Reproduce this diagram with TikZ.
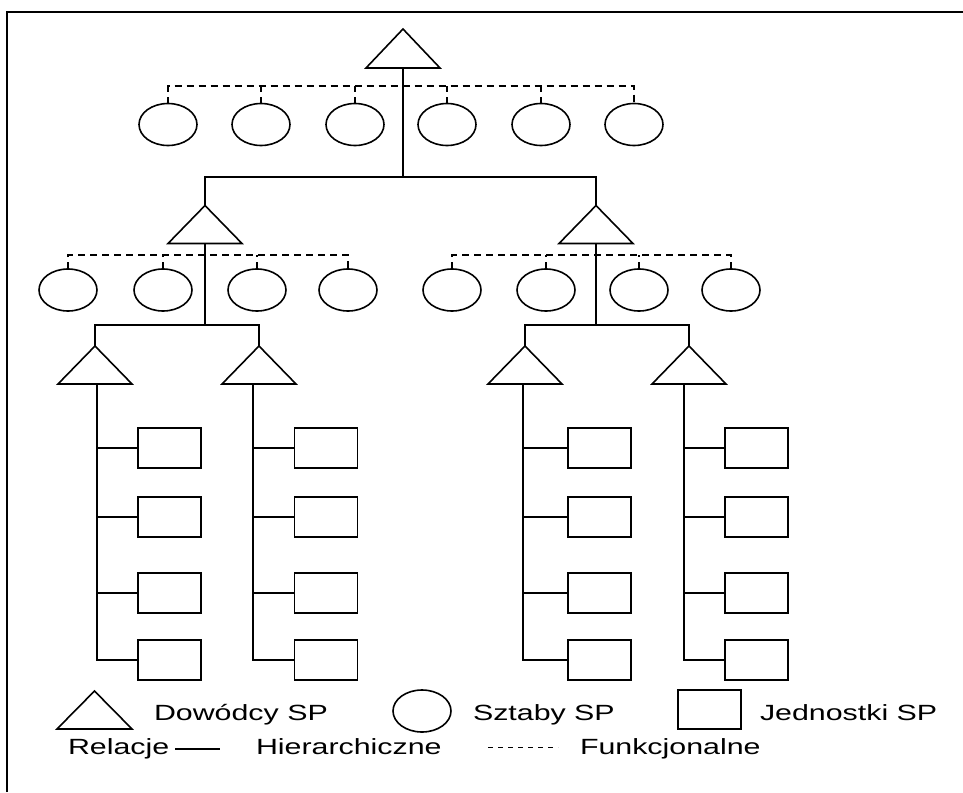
\documentclass[tikz,border=0pt]{standalone}
\usepackage{fontspec}
\setmainfont{Liberation Sans}
\usetikzlibrary{shapes.geometric}
\newcommand{\wide}[1]{\scalebox{1.38}[1]{#1}}
\begin{document}
\begin{tikzpicture}[x=1pt,y=-1pt,
  every node/.style={inner sep=0pt, outer sep=0pt},
  ln/.style={line width=1.6pt, black},
  fn/.style={line width=1.5pt, black, dash pattern=on 7pt off 5pt},
  tri/.style={minimum width=74pt, minimum height=38pt},
  sztab/.style={ellipse, draw, line width=1.6pt, minimum width=58pt, minimum height=42pt},
  jedn/.style={rectangle, draw, line width=1.6pt, minimum width=63pt, minimum height=40pt},
  lbl/.style={anchor=base west, font=\fontsize{22}{22}\selectfont}]
\useasboundingbox (0,0) rectangle (963,792);
\fill[white] (0,0) rectangle (963,792);
% frame
\draw[line width=2.2pt] (7,792) -- (7,12) -- (963,12);

% commanders (triangles)
\node[tri, minimum height=39pt] (t0) at (403,48.5) {};
\node[tri] (tL) at (205,224.5) {};
\node[tri] (tR) at (596,224.5) {};
\node[tri] (tLL) at (95,365) {};
\node[tri] (tLR) at (259,365) {};
\node[tri] (tRL) at (525,365) {};
\node[tri] (tRR) at (689,365) {};
\node[tri, minimum width=75pt] (lt) at (94.5,710) {};
\foreach \n in {t0,tL,tR,tLL,tLR,tRL,tRR,lt}
  \draw[ln, line join=miter] (\n.south west) -- (\n.north) -- (\n.south east) -- cycle;

% staffs (ellipses)
\foreach \x [count=\i] in {168,261,355,447,541,634}
  \node[sztab] (s0\i) at (\x,124.5) {};
\foreach \x [count=\i] in {68,163,257,348}
  \node[sztab] (sL\i) at (\x,290) {};
\foreach \x [count=\i] in {452,546,639,731}
  \node[sztab] (sR\i) at (\x,290) {};

% units (rectangles)
\foreach \y [count=\j] in {448,517,593,660} {
  \node[jedn] (jLL\j) at (169.5,\y) {};
  \node[jedn] (jLR\j) at (326,\y) {};
  \node[jedn] (jRL\j) at (599.5,\y) {};
  \node[jedn] (jRR\j) at (756.5,\y) {};
}

% hierarchical relations
\coordinate (b0) at (403,177);
\draw[ln] (t0.south) -- (b0);
\draw[ln] (tL.north) |- (b0) -| (tR.north);
\coordinate (bL) at (205,325);
\coordinate (bR) at (596,325);
\draw[ln] (tL.south) -- (bL);
\draw[ln] (tR.south) -- (bR);
\draw[ln] (tLL.north) |- (bL) -| (tLR.north);
\draw[ln] (tRL.north) |- (bR) -| (tRR.north);
\foreach \j in {1,...,4} {
  \draw[ln] ([xshift=2pt]tLL.south) |- (jLL\j.west);
  \draw[ln] ([xshift=-6pt]tLR.south) |- (jLR\j.west);
  \draw[ln] ([xshift=-2pt]tRL.south) |- (jRL\j.west);
  \draw[ln] ([xshift=-5pt]tRR.south) |- (jRR\j.west);
}

% functional relations
\coordinate (d0) at (403,86);
\coordinate (dL) at (205,255);
\coordinate (dR) at (596,255);
\draw[fn] (s01.north) |- (d0) -| (s06.north);
\foreach \i in {2,...,5} \draw[fn] (s0\i.north) -- (s0\i.north |- d0);
\draw[fn] (sL1.north) |- (dL) -| (sL4.north);
\foreach \i in {2,3} \draw[fn] (sL\i.north) -- (sL\i.north |- dL);
\draw[fn] (sR1.north) |- (dR) -| (sR4.north);
\foreach \i in {2,3} \draw[fn] (sR\i.north) -- (sR\i.north |- dR);

% legend
\node[sztab] (le) at (422,711) {};
\node[jedn, minimum height=39pt] (lj) at (709.5,709.5) {};
\node[lbl] (ld) at (154,720) {\wide{Dowódcy SP}};
\node[lbl] (ls) at (473,720) {\wide{Sztaby SP}};
\node[lbl] (ljt) at (760,720) {\wide{Jednostki SP}};
\node[lbl] (lr) at (68,754) {\wide{Relacje}};
\node[lbl] (lh) at (256,754) {\wide{Hierarchiczne}};
\node[lbl] (lf) at (580,754) {\wide{Funkcjonalne}};
\coordinate (h1) at (175,749);
\coordinate (h2) at (220,749);
\draw[line width=1.3pt] (h1) -- (h2);
\coordinate (f1) at (488,747);
\coordinate (f2) at (558,747);
\draw[line width=1pt, dash pattern=on 5pt off 5pt] (f1) -- (f2);
\end{tikzpicture}
\end{document}
